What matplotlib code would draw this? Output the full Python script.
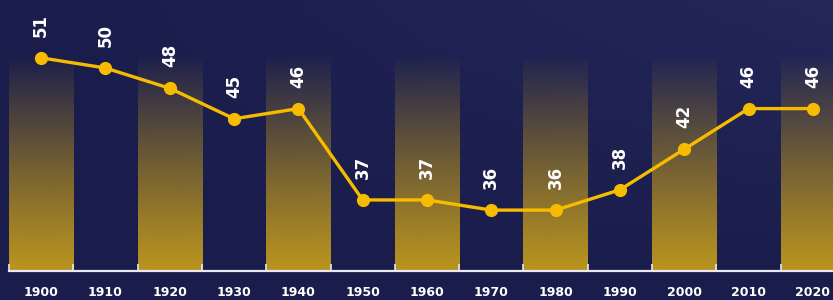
import numpy as np
import matplotlib
matplotlib.use("Agg")
import matplotlib.pyplot as plt
from matplotlib.colors import to_rgb

years = ["1900", "1910", "1920", "1930", "1940", "1950", "1960",
         "1970", "1980", "1990", "2000", "2010", "2020"]
values = [51, 50, 48, 45, 46, 37, 37, 36, 36, 38, 42, 46, 46]

bg = "#1a1d4b"
gold = "#f7bb00"
bar_gold = to_rgb("#c39b1d")

fig = plt.figure(figsize=(8.33, 3.0), dpi=100, facecolor=bg)
W, H = 833, 300
ax = fig.add_axes([9 / W, 29 / H, 836 / W, 271 / H])

# subtle background glow at top right
glow = np.zeros((50, 100, 4))
gx = np.linspace(0, 1, 100)[None, :]
gy = np.linspace(0, 1, 50)[:, None]
glow[..., :3] = to_rgb("#2a2f62")
glow[..., 3] = np.clip(gx * (1 - gy) * 0.6, 0, 1)
bax = fig.add_axes([0, 0, 1, 1], zorder=-1)
bax.imshow(glow, extent=[0, 1, 0, 1], aspect="auto", origin="upper")
bax.axis("off")
ax.patch.set_alpha(0)

ymin = 30
ymax = 56.7
band_top = max(values) + 0.3
x = np.arange(len(years))

# gradient bands on alternating categories
grad = np.zeros((200, 1, 4))
t = np.linspace(0, 1, 200)[:, None]
grad[..., 0] = bar_gold[0]
grad[..., 1] = bar_gold[1]
grad[..., 2] = bar_gold[2]
grad[..., 3] = np.clip(1.0 - t ** 1.1, 0, 1) * 0.95
for i in range(0, len(years), 2):
    ax.imshow(grad, extent=[i - 0.5, i + 0.5, ymin, band_top],
              aspect="auto", origin="lower", zorder=1, interpolation="bilinear")

ax.plot(x, values, color=gold, lw=2.4, marker="o", markersize=9.5,
        markeredgewidth=0, zorder=3, solid_capstyle="round")

for xi, v in zip(x, values):
    ax.annotate(str(v), (xi, v), xytext=(0, 15), textcoords="offset points",
                rotation=90, ha="center", va="bottom", color="white",
                fontsize=12, fontweight="bold", family="DejaVu Sans", zorder=4)

ax.set_xlim(-0.5, len(years) - 0.5)
ax.set_ylim(ymin, ymax)
ax.set_xticks(x)
ax.set_xticklabels(years, color="white", fontsize=9, fontweight="bold")
ax.tick_params(axis="x", which="major", length=0, pad=11)
ax.set_xticks(np.arange(len(years) + 1) - 0.5, minor=True)
ax.tick_params(axis="x", which="minor", direction="in", length=5,
               color="#e8e8ee", width=1.2)
ax.set_yticks([])
for s in ["top", "right", "left"]:
    ax.spines[s].set_visible(False)
ax.spines["bottom"].set_color("#e8e8ee")
ax.spines["bottom"].set_linewidth(1.6)
ax.spines["bottom"].set_zorder(5)

fig.savefig("out.png", dpi=100, facecolor=bg)
